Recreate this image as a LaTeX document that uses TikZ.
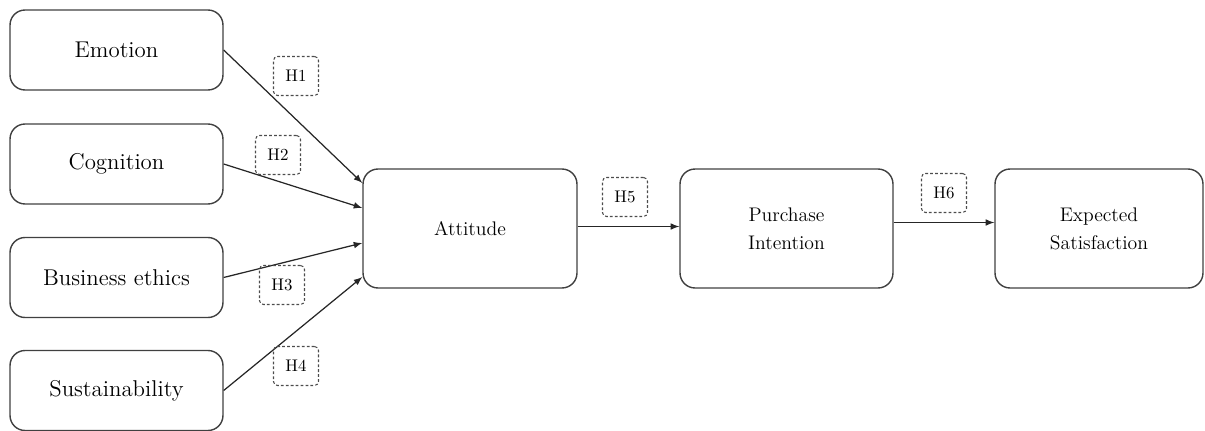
\documentclass[tikz,border=0pt]{standalone}
\usetikzlibrary{calc}

\begin{document}
\begin{tikzpicture}[x=0.02cm,y=-0.02cm,
    factor/.style={draw=black!75,line width=0.8pt,rounded corners=0.3cm,minimum width=4.26cm,minimum height=1.6cm,font=\fontsize{13}{16}\selectfont},
    construct/.style={draw=black!75,line width=0.8pt,rounded corners=0.3cm,minimum height=2.38cm,align=center,font=\fontsize{11.2}{16}\selectfont},
    hyp/.style={draw=black!70,dash pattern=on 1.6pt off 1.2pt,line width=0.6pt,rounded corners=0.08cm,minimum width=0.9cm,minimum height=0.78cm,inner sep=0pt,font=\fontsize{9.6}{12}\selectfont},
    link/.style={->,>=latex,draw=black!85,line width=0.7pt}]
	\useasboundingbox (0,0) rectangle (1205,430);

	% antecedents
	\node (emo) at (116.5,50)[factor]{Emotion};
	\node (cog) at (116.5,164)[factor]{Cognition};
	\node (eth) at (116.5,277.5)[factor]{Business ethics};
	\node (sus) at (116.5,390.5)[factor]{Sustainability};

	% main constructs
	\node (att) at (470,228.5)[construct,minimum width=4.28cm]{Attitude};
	\node (pi) at (786.5,228.5)[construct,minimum width=4.26cm]{Purchase\\Intention};
	\node (es) at (1099,228.5)[construct,minimum width=4.16cm]{Expected\\Satisfaction};

	% paths
	\draw[link] (emo.east) -- ($(att.west)+(0,-45.5)$);
	\draw[link] (cog.east) -- ($(att.west)+(0,-20.5)$);
	\draw[link] (eth.east) -- ($(att.west)+(0,14.5)$);
	\draw[link] (sus.east) -- ($(att.west)+(0,48.5)$);
	\draw[link] ($(att.east)+(0,-2)$) -- ($(pi.west)+(0,-2)$);
	\draw[link] ($(pi.east)+(0,-6)$) -- ($(es.west)+(0,-6)$);

	% hypotheses
	\node (h1) at (296,76)[hyp]{H1};
	\node (h2) at (278,155)[hyp]{H2};
	\node (h3) at (282,285)[hyp]{H3};
	\node (h4) at (296,366)[hyp]{H4};
	\node (h5) at (625,197)[hyp]{H5};
	\node (h6) at (944,193)[hyp]{H6};
\end{tikzpicture}
\end{document}
